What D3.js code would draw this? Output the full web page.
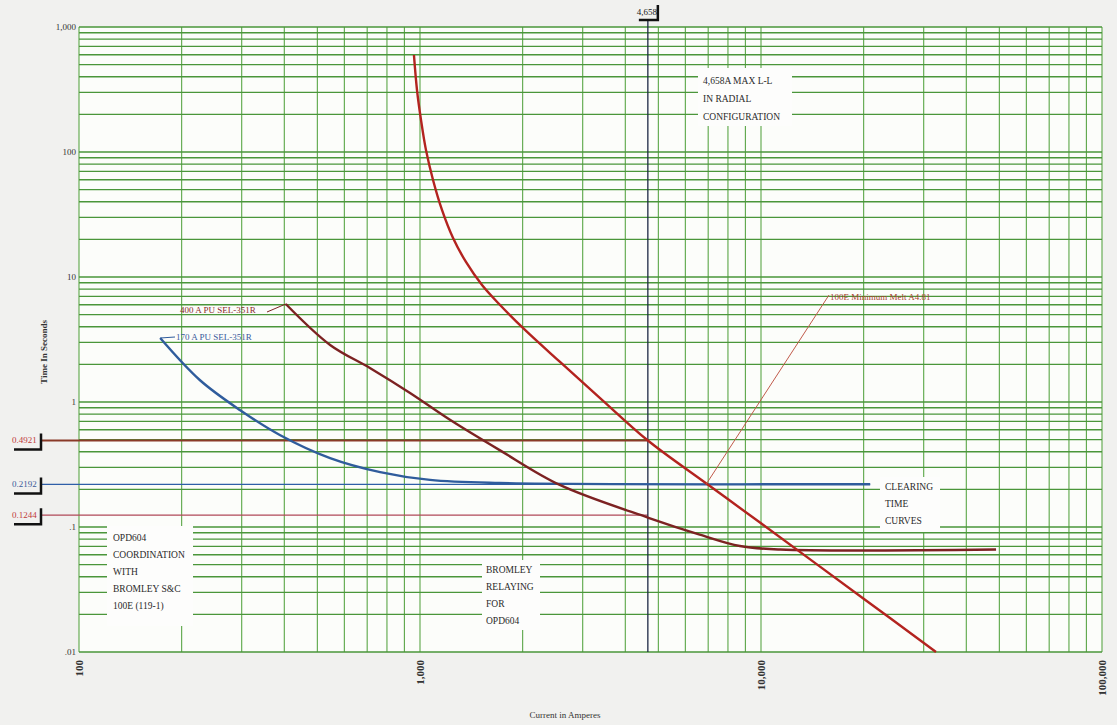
<!DOCTYPE html>
<html>
<head>
<meta charset="utf-8">
<script src="https://cdn.jsdelivr.net/npm/d3@7"></script>
<style>
  body { margin: 0; background: #f1f1ef; }
  svg { display: block; font-family: "Liberation Serif", "DejaVu Serif", serif; }
</style>
</head>
<body>
<svg id="viz" width="1117" height="725"></svg>
<script>
// chart size
var width = 1117,
	height = 725;

// axis ticks
var xTicks = [100, 1000, 10000, 100000];
var yTicks = [0.01, 0.1, 1, 10, 100, 1000];
var yTickLabels = [".01", ".1", "1", "10", "100", "1,000"];

// 100E fuse minimum melt curve (A, s)
var fuseCurrent = [960, 980, 1007, 1041, 1092, 1160, 1250, 1364, 1520, 1717, 2032, 2574, 3373, 4658, 6900, 10000, 20000, 32600];
var fuseTime = [597, 313, 180, 104, 59.7, 34.4, 20.5, 13.2, 8.63, 5.97, 3.77, 2.09, 1.076, 0.492, 0.224, 0.107, 0.0267, 0.01];

// 400 A pickup SEL-351R relay curve
var relay400Current = [404, 545, 713, 935, 1224, 1717, 2570, 4700, 6610, 8670, 11400, 48900];
var relay400Time = [6.08, 2.86, 1.87, 1.18, 0.72, 0.41, 0.217, 0.118, 0.087, 0.0705, 0.066, 0.066];

// 170 A pickup SEL-351R relay curve
var relay170Current = [173, 226, 297, 388, 545, 764, 1070, 1707, 20900];
var relay170Time = [3.25, 1.5, 0.86, 0.545, 0.356, 0.275, 0.238, 0.225, 0.22];

// reference times and max fault current
var refTimes = [0.4921, 0.2192, 0.1244];
var refLabels = ["0.4921", "0.2192", "0.1244"];
var refEnds = [4658, 20900, 4658];
var maxFault = 4658;

var svg = d3.select("#viz");

var x = d3.scaleLog().domain([100, 100000]).range([79, 1102]);
var y = d3.scaleLog().domain([0.01, 1000]).range([652, 27]);

// plot background
svg.append("rect")
	.attr("x", x(100)).attr("y", y(1000))
	.attr("width", x(100000) - x(100)).attr("height", y(0.01) - y(1000))
	.attr("fill", "#fcfdfa");

// grid lines on every 1..9 of each decade
var xGrid = [], yGrid = [];
for (var p = 2; p <= 4; p++) for (var k = 1; k <= 9; k++) xGrid.push(k * Math.pow(10, p));
xGrid.push(100000);
for (var q = -2; q <= 2; q++) for (var m = 1; m <= 9; m++) yGrid.push(m * Math.pow(10, q));
yGrid.push(1000);

var grid = svg.append("g").attr("class", "grid");
grid.selectAll("line.v").data(xGrid).enter().append("line")
	.attr("class", "v")
	.attr("x1", function(d) { return x(d); }).attr("x2", function(d) { return x(d); })
	.attr("y1", y(1000)).attr("y2", y(0.01))
	.attr("stroke", "#5aa646").attr("stroke-width", 1.1);
grid.selectAll("line.h").data(yGrid).enter().append("line")
	.attr("class", "h")
	.attr("y1", function(d) { return y(d); }).attr("y2", function(d) { return y(d); })
	.attr("x1", x(100)).attr("x2", x(100000))
	.attr("stroke", "#4a963a").attr("stroke-width", 1.4);

// y tick labels
svg.append("g").selectAll("text").data(yTicks).enter().append("text")
	.attr("x", x(100) - 3).attr("y", function(d) { return y(d) + 3; })
	.attr("text-anchor", "end").attr("font-size", 9).attr("fill", "#333")
	.text(function(d, i) { return yTickLabels[i]; });

// x tick labels, rotated
svg.append("g").selectAll("text").data(xTicks).enter().append("text")
	.attr("transform", function(d) { return "translate(" + (x(d) + 4) + "," + (y(0.01) + 8) + ") rotate(-90)"; })
	.attr("text-anchor", "end").attr("font-size", 11).attr("font-weight", 700).attr("fill", "#333")
	.text(function(d) { return d3.format(",")(d); });

// axis titles
svg.append("text")
	.attr("transform", "translate(47,352) rotate(-90)")
	.attr("text-anchor", "middle").attr("font-size", 9).attr("font-weight", 700).attr("fill", "#333")
	.text("Time In Seconds");
svg.append("text")
	.attr("x", 565).attr("y", 718)
	.attr("text-anchor", "middle").attr("font-size", 9).attr("fill", "#333")
	.text("Current in Amperes");

// reference time lines
var refColors = ["#8a3a28", "#2f5fa8", "#b04858"];
var refText = ["#c03a3a", "#3a5a9a", "#c03a3a"];
refTimes.forEach(function(t, i) {
	svg.append("line")
		.attr("x1", 42).attr("x2", x(refEnds[i]))
		.attr("y1", y(t)).attr("y2", y(t))
		.attr("stroke", refColors[i]).attr("stroke-width", i == 0 ? 1.8 : 1.3);
	svg.append("text")
		.attr("x", 12).attr("y", y(t) + 3)
		.attr("font-size", 9).attr("fill", refText[i])
		.text(refLabels[i]);
	svg.append("path")
		.attr("d", "M" + 41 + "," + (y(t) - 7) + "V" + (y(t) + 9) + "H" + 14)
		.attr("fill", "none").attr("stroke", "#111").attr("stroke-width", 2.5);
});

// max fault current marker
svg.append("line")
	.attr("x1", x(maxFault)).attr("x2", x(maxFault))
	.attr("y1", 20).attr("y2", y(0.01))
	.attr("stroke", "#1c2844").attr("stroke-width", 1.3);
svg.append("text")
	.attr("x", x(maxFault) - 1).attr("y", 15)
	.attr("text-anchor", "middle").attr("font-size", 9).attr("fill", "#222")
	.text("4,658");
svg.append("path")
	.attr("d", "M" + (x(maxFault) + 10) + ",5V20H" + (x(maxFault) - 9))
	.attr("fill", "none").attr("stroke", "#111").attr("stroke-width", 2.5);

// curves
var line = d3.line()
	.x(function(d) { return x(d[0]); })
	.y(function(d) { return y(d[1]); })
	.curve(d3.curveCatmullRom.alpha(0.5));

function drawCurve(cur, tim, color) {
	svg.append("path")
		.datum(d3.zip(cur, tim))
		.attr("d", line)
		.attr("fill", "none").attr("stroke", color).attr("stroke-width", 2.4);
}
drawCurve(relay170Current, relay170Time, "#2f5c9c");
drawCurve(relay400Current, relay400Time, "#7c2222");
drawCurve(fuseCurrent, fuseTime, "#b3231f");

// curve labels with leaders
svg.append("line")
	.attr("x1", 267).attr("y1", 312).attr("x2", x(relay400Current[0])).attr("y2", y(relay400Time[0]))
	.attr("stroke", "#7c2222").attr("stroke-width", 1);
svg.append("text")
	.attr("x", 180).attr("y", 313).attr("font-size", 9).attr("fill", "#8a2a2a")
	.text("400 A PU SEL-351R");

svg.append("line")
	.attr("x1", x(relay170Current[0])).attr("y1", y(relay170Time[0])).attr("x2", 175).attr("y2", 337)
	.attr("stroke", "#2f5c9c").attr("stroke-width", 1);
svg.append("text")
	.attr("x", 176).attr("y", 340).attr("font-size", 9).attr("fill", "#3a5a9a")
	.text("170 A PU SEL-351R");

svg.append("line")
	.attr("x1", x(6900)).attr("y1", y(0.2192)).attr("x2", 829).attr("y2", 295)
	.attr("stroke", "#c05a4a").attr("stroke-width", 1);
svg.append("text")
	.attr("x", 830).attr("y", 300).attr("font-size", 9).attr("fill", "#a8402e")
	.text("100E  Minimum Melt  A4.81");

// text boxes
function noteBox(bx, by, bw, bh, lines, tx, ty, step) {
	svg.append("rect").attr("x", bx).attr("y", by).attr("width", bw).attr("height", bh).attr("fill", "#fdfdfc");
	var t = svg.append("text").attr("font-size", 9.5).attr("fill", "#2a2a2a");
	lines.forEach(function(s, i) {
		t.append("tspan").attr("x", tx).attr("y", ty + i * step).text(s);
	});
}
noteBox(698, 68, 94, 58, ["4,658A MAX L-L", "IN RADIAL", "CONFIGURATION"], 703, 84, 18);
noteBox(880, 477, 60, 55, ["CLEARING", "TIME", "CURVES"], 885, 490, 17);
noteBox(107, 526, 86, 100, ["OPD604", "COORDINATION", "WITH", "BROMLEY S&C", "100E (119-1)"], 113, 541, 17);
noteBox(482, 560, 58, 70, ["BROMLEY", "RELAYING", "FOR", "OPD604"], 486, 573, 17);
</script>
</body>
</html>
